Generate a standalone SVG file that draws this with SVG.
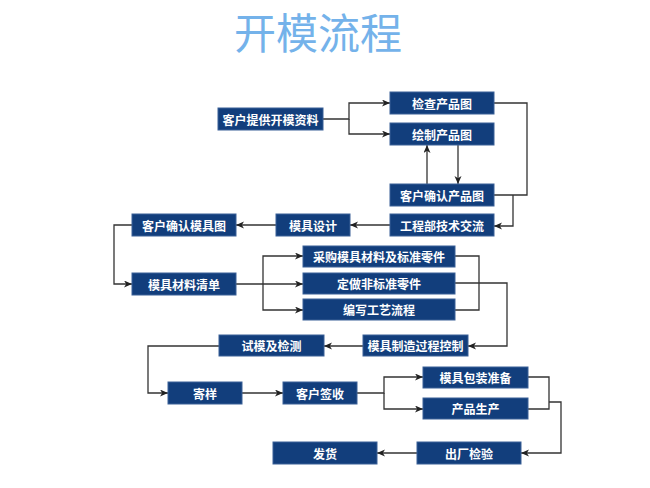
<svg xmlns="http://www.w3.org/2000/svg" width="650" height="488" viewBox="0 0 650 488">
<style>
.b rect{fill:#123e7c;stroke:#3a6197;stroke-width:1}
.b text{fill:#fff;font-family:"Noto Sans CJK SC","Noto Sans",sans-serif;font-size:12px;font-weight:bold;text-anchor:middle;dominant-baseline:central}
.c path{fill:none;stroke:#333;stroke-width:1.3}
.t{fill:#74b2ea;font-family:"Noto Sans CJK SC","Noto Sans",sans-serif;font-size:42px;text-anchor:middle}
</style>
<defs>
<marker id="ar" markerUnits="userSpaceOnUse" markerWidth="10" markerHeight="8" refX="8" refY="3.5" orient="auto">
<path d="M0,0 L8,3.5 L0,7 L2.2,3.5 z" fill="#222"/>
</marker>
</defs>
<rect width="650" height="488" fill="#fff"/>
<text class="t" x="318" y="49">开模流程</text>
<g class="c">
<path d="M323,119 H349 V103 H390" marker-end="url(#ar)"/>
<path d="M349,119 V134 H390" marker-end="url(#ar)"/>
<path d="M494,103 H527 V195 H494"/>
<path d="M513,195 V226 H494" marker-end="url(#ar)"/>
<path d="M427,184 V145" marker-end="url(#ar)"/>
<path d="M458,145 V184" marker-end="url(#ar)"/>
<path d="M390,225 H350" marker-end="url(#ar)"/>
<path d="M276,225 H236" marker-end="url(#ar)"/>
<path d="M132,225 H114 V284 H132" marker-end="url(#ar)"/>
<path d="M236,284 H303" marker-end="url(#ar)"/>
<path d="M263,284 V256 H303" marker-end="url(#ar)"/>
<path d="M263,284 V310 H303" marker-end="url(#ar)"/>
<path d="M455,256 H479 V310 H455"/>
<path d="M455,283 H507 V346 H468" marker-end="url(#ar)"/>
<path d="M363,346 H324" marker-end="url(#ar)"/>
<path d="M219,346 H148 V393 H168" marker-end="url(#ar)"/>
<path d="M242,393 H283" marker-end="url(#ar)"/>
<path d="M357,393 H384 V377 H423" marker-end="url(#ar)"/>
<path d="M384,393 V409 H423" marker-end="url(#ar)"/>
<path d="M528,377 H549 V409 H528"/>
<path d="M549,402 H561 V453 H521" marker-end="url(#ar)"/>
<path d="M417,453 H377" marker-end="url(#ar)"/>
</g>
<g id="n1" class="b"><rect x="218" y="108" width="105" height="22"/><text x="270.5" y="119">客户提供开模资料</text></g>
<g id="n2" class="b"><rect x="390" y="92" width="104" height="22"/><text x="442" y="103">检查产品图</text></g>
<g id="n3" class="b"><rect x="390" y="123" width="104" height="22"/><text x="442" y="134">绘制产品图</text></g>
<g id="n4" class="b"><rect x="390" y="184" width="104" height="22"/><text x="442" y="195">客户确认产品图</text></g>
<g id="n5" class="b"><rect x="390" y="214" width="104" height="22"/><text x="442" y="225">工程部技术交流</text></g>
<g id="n6" class="b"><rect x="276" y="214" width="74" height="22"/><text x="313" y="225">模具设计</text></g>
<g id="n7" class="b"><rect x="132" y="214" width="104" height="22"/><text x="184" y="225">客户确认模具图</text></g>
<g id="n8" class="b"><rect x="132" y="273" width="104" height="22"/><text x="184" y="284">模具材料清单</text></g>
<g id="n9" class="b"><rect x="303" y="246" width="152" height="21"/><text x="379" y="256.5">采购模具材料及标准零件</text></g>
<g id="n10" class="b"><rect x="303" y="273" width="152" height="21"/><text x="379" y="283.5">定做非标准零件</text></g>
<g id="n11" class="b"><rect x="303" y="299" width="152" height="21"/><text x="379" y="309.5">编写工艺流程</text></g>
<g id="n12" class="b"><rect x="363" y="335" width="105" height="21"/><text x="415.5" y="345.5">模具制造过程控制</text></g>
<g id="n13" class="b"><rect x="219" y="335" width="105" height="21"/><text x="271.5" y="345.5">试模及检测</text></g>
<g id="n14" class="b"><rect x="168" y="382" width="74" height="22"/><text x="205" y="393">寄样</text></g>
<g id="n15" class="b"><rect x="283" y="382" width="74" height="22"/><text x="320" y="393">客户签收</text></g>
<g id="n16" class="b"><rect x="423" y="367" width="105" height="21"/><text x="475.5" y="377.5">模具包装准备</text></g>
<g id="n17" class="b"><rect x="423" y="398" width="105" height="21"/><text x="475.5" y="408.5">产品生产</text></g>
<g id="n18" class="b"><rect x="417" y="442" width="104" height="22"/><text x="469" y="453">出厂检验</text></g>
<g id="n19" class="b"><rect x="273" y="442" width="104" height="22"/><text x="325" y="453">发货</text></g>
</svg>
